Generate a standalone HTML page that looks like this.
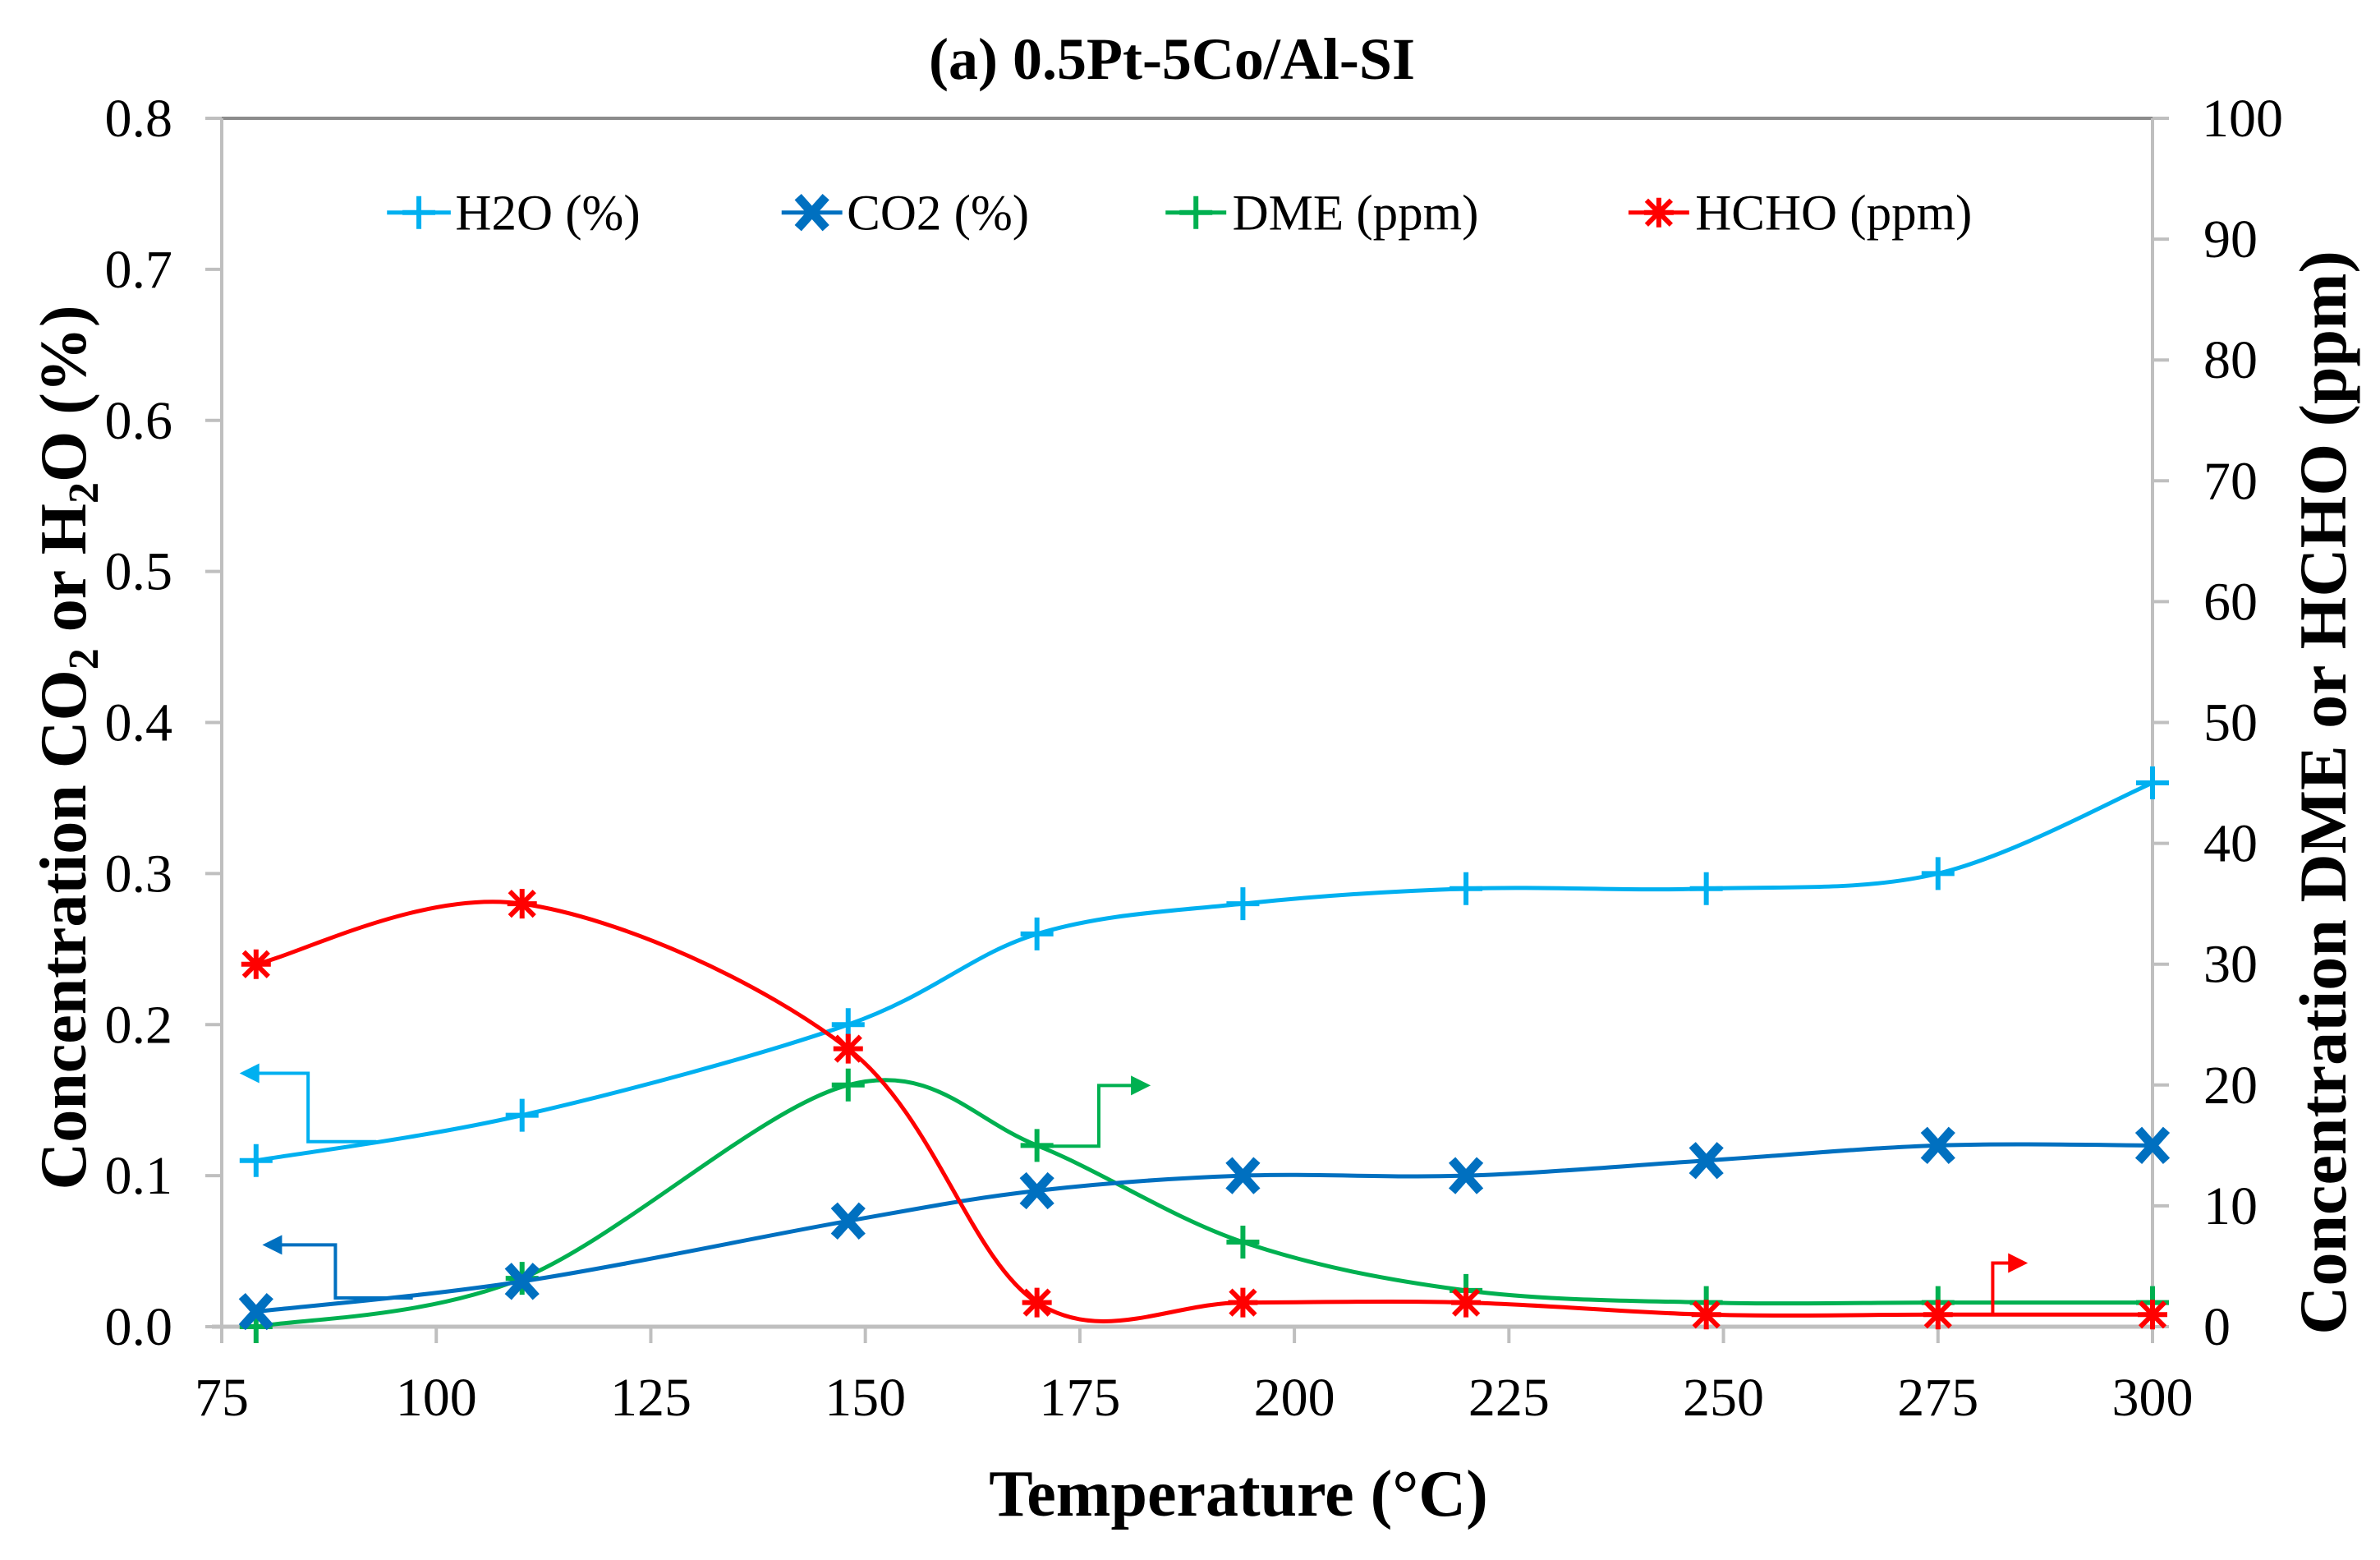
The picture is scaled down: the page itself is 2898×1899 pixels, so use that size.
<!DOCTYPE html>
<html><head><meta charset="utf-8"><style>
html,body{margin:0;padding:0;background:#fff;}
svg{display:block;font-family:"Liberation Serif",serif;}
</style></head><body>
<svg id="c" width="2898" height="1899" viewBox="0 0 2898 1899"></svg>
<script>
const temps=[79,110,148,170,194,220,248,275,300];
const h2o=[0.11,0.14,0.20,0.26,0.28,0.29,0.29,0.30,0.36];
const co2=[0.01,0.03,0.07,0.09,0.10,0.10,0.11,0.12,0.12];
const dme=[0,4,20,15,7,3,2,2,2];
const hcho=[30,35,23,2,2,2,1,1,1];
const xTicks=[75,100,125,150,175,200,225,250,275,300];
const yLeftTicks=[0.0,0.1,0.2,0.3,0.4,0.5,0.6,0.7,0.8];
const yRightTicks=[0,10,20,30,40,50,60,70,80,90,100];

const L=270,R=2621,T=144,B=1615;
const sx=v=>L+(v-75)/(300-75)*(R-L);
const syL=v=>B-v/0.8*(B-T);
const syR=v=>B-v/100*(B-T);
const svg=document.getElementById('c');
const NS='http://www.w3.org/2000/svg';
function mk(tag,attrs,parent){const e=document.createElementNS(NS,tag);for(const k in attrs)e.setAttribute(k,attrs[k]);(parent||svg).appendChild(e);return e;}
function txt(s,attrs,parent){const e=mk('text',attrs,parent);e.textContent=s;return e;}

let g=mk('g',{});


mk('line',{x1:L,y1:T,x2:R,y2:T,stroke:'#8c8c8c','stroke-width':4},g);
mk('line',{x1:L,y1:T,x2:L,y2:B+14,stroke:'#bfbfbf','stroke-width':4},g);
mk('line',{x1:R,y1:T,x2:R,y2:B,stroke:'#bfbfbf','stroke-width':4},g);
mk('line',{x1:L-12,y1:B,x2:R,y2:B,stroke:'#bfbfbf','stroke-width':5},g);
xTicks.forEach(v=>{
  mk('line',{x1:sx(v),y1:B,x2:sx(v),y2:B+20,stroke:'#bfbfbf','stroke-width':4},g);
  const t=txt(String(v),{x:sx(v),y:B+108,'font-size':66,'text-anchor':'middle',fill:'#000'},g);
  
  
});
yLeftTicks.forEach(v=>{
  mk('line',{x1:L-20,y1:syL(v),x2:L,y2:syL(v),stroke:'#bfbfbf','stroke-width':4},g);
  const t=txt(v.toFixed(1),{x:L-60,y:syL(v)+22,'font-size':66,'text-anchor':'end',fill:'#000'},g);
  
  
});
yRightTicks.forEach(v=>{
  mk('line',{x1:R,y1:syR(v),x2:R+20,y2:syR(v),stroke:'#bfbfbf','stroke-width':4},g);
  const t=txt(String(v),{x:R+(v===100?60:62),y:syR(v)+22,'font-size':66,'text-anchor':'start',fill:'#000'},g);
  
  
});

function smooth(pts){
  let d='M'+pts[0][0]+','+pts[0][1];
  for(let i=0;i<pts.length-1;i++){
    const p0=pts[i-1]||pts[i],p1=pts[i],p2=pts[i+1],p3=pts[i+2]||p2;
    const c1=[p1[0]+(p2[0]-p0[0])/6,p1[1]+(p2[1]-p0[1])/6];
    const c2=[p2[0]-(p3[0]-p1[0])/6,p2[1]-(p3[1]-p1[1])/6];
    d+=' C'+c1+' '+c2+' '+p2;
  }
  return d;
}
function marker(type,x,y,color,parent){
  if(type==='plus'){
    mk('path',{d:`M${x-20},${y}H${x+20}M${x},${y-20}V${y+20}`,stroke:color,'stroke-width':6,fill:'none'},parent);
  }else if(type==='x'){
    mk('path',{d:`M${x-17},${y-19}L${x+17},${y+19}M${x+17},${y-19}L${x-17},${y+19}`,stroke:color,'stroke-width':11,fill:'none'},parent);
  }else{
    mk('path',{d:`M${x-15},${y-15}L${x+15},${y+15}M${x+15},${y-15}L${x-15},${y+15}M${x},${y-18}V${y+18}M${x-18},${y}H${x+18}`,stroke:color,'stroke-width':6,fill:'none'},parent);
  }
}
const series=[
  {name:'dme-series',vals:dme,sy:syR,color:'#00b050',m:'plus'},
  {name:'co2-series',vals:co2,sy:syL,color:'#0070c0',m:'x'},
  {name:'h2o-series',vals:h2o,sy:syL,color:'#00b0f0',m:'plus'},
  {name:'hcho-series',vals:hcho,sy:syR,color:'#ff0000',m:'star'},
];
series.forEach(s=>{
  const sg=mk('g',{});
  
  
  const pts=temps.map((t,i)=>[sx(t),s.sy(s.vals[i])]);
  mk('path',{d:smooth(pts),stroke:s.color,'stroke-width':5,fill:'none'},sg);
  pts.forEach(p=>marker(s.m,p[0],p[1],s.color,sg));
});

function arrow(name,pts,color,dir){
  const ag=mk('g',{});
  
  
  mk('polyline',{points:pts.map(p=>p.join(',')).join(' '),stroke:color,'stroke-width':4,fill:'none'},ag);
  const e=pts[pts.length-1];
  const s=dir<0?1:-1;
  mk('polygon',{points:`${e[0]-s*4},${e[1]} ${e[0]+s*20},${e[1]-12} ${e[0]+s*20},${e[1]+12}`,fill:color},ag);
}
const k=1.848;
arrow('h2o-axis-arrow',[[248,752],[203,752],[203,707],[160,707]].map(p=>[p[0]*k,p[1]*k]),'#00b0f0',-1);
arrow('co2-axis-arrow',[[272,855],[221,855],[221,820],[175,820]].map(p=>[p[0]*k,p[1]*k]),'#0070c0',-1);
arrow('dme-axis-arrow',[[680,755],[724,755],[724,715],[756,715]].map(p=>[p[0]*k,p[1]*k]),'#00b050',1);
arrow('hcho-axis-arrow',[[1290,866],[1313,866],[1313,832],[1334,832]].map(p=>[p[0]*k,p[1]*k]),'#ff0000',1);

const leg=[
  {label:'H2O (%)',x1:255,x2:297,tx:300,color:'#00b0f0',m:'plus'},
  {label:'CO2 (%)',x1:515,x2:555,tx:558,color:'#0070c0',m:'x'},
  {label:'DME (ppm)',x1:768,x2:808,tx:812,color:'#00b050',m:'plus'},
  {label:'HCHO (ppm)',x1:1073,x2:1113,tx:1117,color:'#ff0000',m:'star'},
];
leg.forEach(l=>{
  const lg=mk('g',{});
  
  
  const y=140*k;
  mk('line',{x1:l.x1*k,y1:y,x2:l.x2*k,y2:y,stroke:l.color,'stroke-width':5},lg);
  marker(l.m,(l.x1+l.x2)/2*k,y,l.color,lg);
  txt(l.label,{x:l.tx*k,y:y+21,'font-size':61,fill:'#000'},lg);
});

let t=txt('(a) 0.5Pt-5Co/Al-SI',{x:1427,y:96,'font-size':72,'font-weight':'bold','text-anchor':'middle'});


t=txt('Temperature (°C)',{x:1508,y:1845,'font-size':80,'font-weight':'bold','text-anchor':'middle'});


t=mk('text',{x:0,y:0,'font-size':80,'font-weight':'bold','text-anchor':'middle',transform:'translate(104,910) rotate(-90)'});
t.innerHTML='Concentration CO<tspan font-size="52" dy="15">2</tspan><tspan dy="-15"> or H</tspan><tspan font-size="52" dy="15">2</tspan><tspan dy="-15">O (%)</tspan>';


t=txt('Concentration DME or HCHO (ppm)',{x:0,y:0,'font-size':82,'font-weight':'bold','text-anchor':'middle',transform:'translate(2856,965) rotate(-90)'});


</script>
</body></html>
